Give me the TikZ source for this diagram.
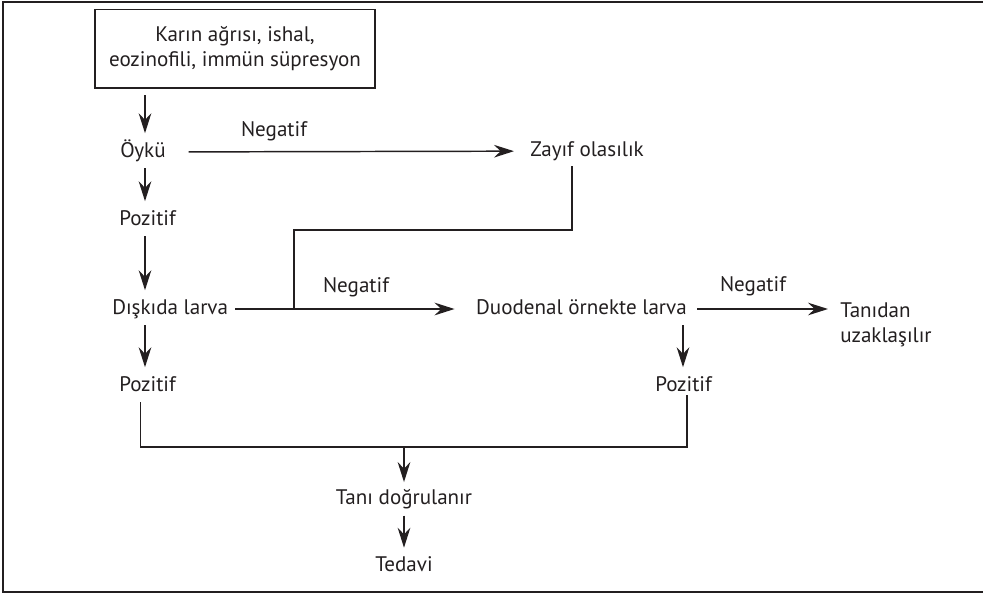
\documentclass[tikz,border=0pt]{standalone}
\usepackage{fontspec}
\setmainfont{PT Sans}
\usetikzlibrary{arrows.meta}

\begin{document}
\begin{tikzpicture}[x=0.75pt, y=-0.75pt,
    every node/.style={font=\fontsize{15.8}{19}\selectfont, text=lineColour, inner sep=0pt,
        text height=11pt, text depth=2.8pt},
    box/.style={draw=lineColour, line width=1pt, minimum width=210pt, minimum height=59pt,
        align=center, text height=, text depth=},
    conn/.style={draw=lineColour, line width=1.1pt},
    arr/.style={conn, -{Stealth[length=15pt, width=9.5pt, inset=5pt]}},
    vline/.style={arr, shorten <=5pt, shorten >=7pt}]
    % Define colours
    \definecolor{lineColour}{HTML}{231F20}

    % Fix the page
    \useasboundingbox (0,0) rectangle (983,594);

    % Draw the frame (open on the right)
    \draw[lineColour, line width=1.6pt] (983,2) -- (3,2) -- (3,592) -- (983,592);

    % Place the nodes
    \node[box] (belirti) at (235,48.5) {Karın ağrısı, ishal,\\eozinofili, immün süpresyon};
    \node[anchor=west] (oyku) at (120,152) {Öykü};
    \node[anchor=west] (poz1) at (119,220) {Pozitif};
    \node[anchor=west] (diskida) at (112,309) {Dışkıda larva};
    \node[anchor=west] (poz2) at (119,386) {Pozitif};
    \node[anchor=west] (zayif) at (530,151) {Zayıf olasılık};
    \node[anchor=east] (duodenal) at (687,309) {Duodenal örnekte larva};
    \node[anchor=west] (poz3) at (655,386) {Pozitif};
    \node[anchor=north west, align=left, text height=, text depth=] (tanidan) at (840,302) {Tanıdan\\uzaklaşılır};
    \node (tani) at (404,499.5) {Tanı doğrulanır};
    \node (tedavi) at (404,566.5) {Tedavi};

    % Label the branches
    \node (neg1) at (274,131.5) {Negatif};
    \node (neg2) at (356,287.5) {Negatif};
    \node (neg3) at (753,286) {Negatif};

    % Helper points
    \coordinate (kolon) at (145,0);
    \coordinate (kirilma) at (572,230);
    \coordinate (katil) at (294,309);
    \coordinate (birlesim) at (404,447);

    % Draw the main column
    \draw[vline] (belirti.south -| kolon) -- (oyku.north -| kolon);
    \draw[vline] (oyku.south -| kolon) -- (poz1.north -| kolon);
    \draw[vline] (poz1.south -| kolon) -- (diskida.north -| kolon);
    \draw[vline] (diskida.south -| kolon) -- (poz2.north -| kolon);

    % Draw the negative branches
    \draw[arr, shorten <=17pt, shorten >=12pt] (oyku) -- (zayif);
    \draw[arr, shorten <=5pt, shorten >=16pt] (diskida) -- (duodenal);
    \draw[arr, shorten <=7.5pt, shorten >=9pt] (duodenal) -- (duodenal -| tanidan.west);
    \draw[conn, shorten <=4.5pt] ([xshift=31.5pt]zayif.south west) -- (kirilma) -| (katil);

    % Draw the positive branches
    \draw[vline] ([xshift=-3pt]duodenal.south east) -- ([xshift=-3pt]duodenal.south east |- poz3.north);
    \draw[conn, shorten <=5pt] ([xshift=16pt]poz2.south west) |- (birlesim) -| ([xshift=24pt]poz3.south west);
    \draw[arr, shorten >=6pt] (birlesim) -- (tani);
    \draw[vline] (tani) -- (tedavi);

\end{tikzpicture}
\end{document}
